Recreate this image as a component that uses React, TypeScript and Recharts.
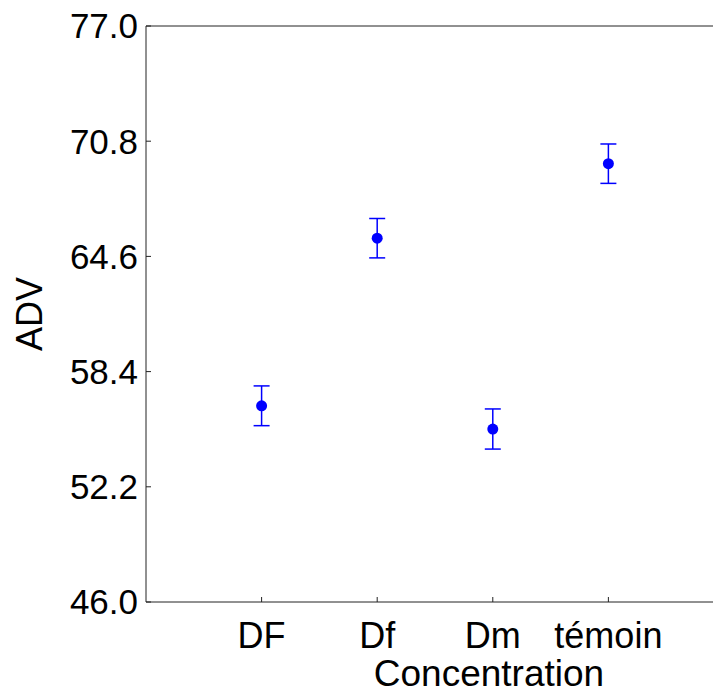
import React from "react";
import { ScatterChart, Scatter, XAxis, YAxis, ErrorBar, ReferenceLine } from "recharts";

const categories = ["DF", "Df", "Dm", "témoin"];
const means = [56.56, 65.58, 55.31, 69.59];
const errors = [1.07, 1.06, 1.08, 1.06];
const yTicks = [46.0, 52.2, 58.4, 64.6, 70.8, 77.0];

const data = categories.map((c, i) => ({ x: i + 1, name: c, y: means[i], err: errors[i] }));

const FONT = "'Liberation Sans', Arial, sans-serif";
const AXIS = "#222";
const BLUE = "#0000ff";

const Dot = (props: any) => <circle cx={props.cx} cy={props.cy} r={5.5} fill={BLUE} />;

export default function App() {
  return (
    <div style={{ position: "absolute", left: 0, top: 0, width: 713, height: 693, background: "#fff", fontFamily: FONT }}>
      <ScatterChart width={713} height={693} margin={{ top: 26, right: 0, bottom: 0, left: 0 }} style={{ fontFamily: FONT }}>
        <XAxis
          type="number"
          dataKey="x"
          domain={[0, 4.905]}
          allowDataOverflow
          ticks={[1, 2, 3, 4]}
          tickFormatter={(v: number) => categories[v - 1] ?? ""}
          height={91}
          tickSize={-5}
          tickMargin={25}
          stroke={AXIS}
          tick={{ fill: "#000", fontSize: 36, fontFamily: FONT }}
          label={(p: any) => {
            const vb = p.viewBox || {};
            return (
              <text x={vb.x + 343} y={vb.y + 84} textAnchor="middle" fill="#000" fontSize={37} fontFamily={FONT}>
                Concentration
              </text>
            );
          }}
        />
        <YAxis
          type="number"
          dataKey="y"
          domain={[46, 77]}
          allowDataOverflow
          ticks={yTicks}
          tickFormatter={(v: number) => v.toFixed(1)}
          width={146}
          tickSize={-5}
          tickMargin={13}
          stroke={AXIS}
          tick={{ fill: "#000", fontSize: 35, fontFamily: FONT }}
          label={(p: any) => {
            const vb = p.viewBox || {};
            const cy = vb.y + vb.height / 2;
            return (
              <text x={29} y={cy} transform={`rotate(-90 29 ${cy})`} textAnchor="middle" dominantBaseline="central" fill="#000" fontSize={36} fontFamily={FONT}>
                ADV
              </text>
            );
          }}
        />
        <ReferenceLine y={77} stroke={AXIS} strokeWidth={1} />
        <Scatter data={data} fill={BLUE} shape={Dot} isAnimationActive={false}>
          <ErrorBar dataKey="err" direction="y" width={8} stroke={BLUE} strokeWidth={1.5} isAnimationActive={false} />
        </Scatter>
      </ScatterChart>
    </div>
  );
}
